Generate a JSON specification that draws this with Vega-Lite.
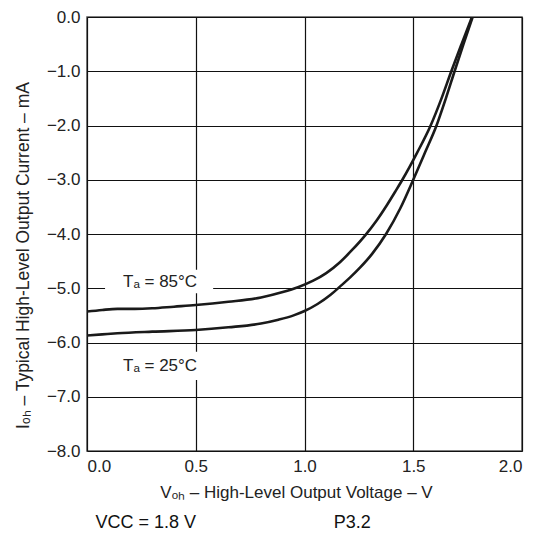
{
  "$schema": "https://vega.github.io/schema/vega-lite/v6.json",
  "width": 435,
  "height": 434,
  "autosize": {"type": "none"},
  "padding": {"left": 87, "top": 17, "right": 19, "bottom": 90},
  "background": "white",
  "config": {
    "view": {"stroke": "#555555", "strokeWidth": 1.5},
    "font": "Liberation Sans",
    "axis": {
      "grid": true,
      "gridColor": "#111111",
      "gridOpacity": 1,
      "gridWidth": 1.2,
      "ticks": false,
      "domain": false,
      "labelFont": "Liberation Sans",
      "labelFontSize": 17,
      "labelColor": "#222222",
      "titleFont": "Liberation Sans",
      "titleFontSize": 17,
      "titleFontWeight": "normal",
      "titleColor": "#222222"
    }
  },
  "datasets": {
    "curves": [
      {"v": 0.0, "i": -5.43, "t": "85"},
      {"v": 0.07, "i": -5.40, "t": "85"},
      {"v": 0.14, "i": -5.38, "t": "85"},
      {"v": 0.22, "i": -5.38, "t": "85"},
      {"v": 0.30, "i": -5.37, "t": "85"},
      {"v": 0.40, "i": -5.34, "t": "85"},
      {"v": 0.50, "i": -5.31, "t": "85"},
      {"v": 0.65, "i": -5.25, "t": "85"},
      {"v": 0.80, "i": -5.17, "t": "85"},
      {"v": 0.90, "i": -5.07, "t": "85"},
      {"v": 0.97, "i": -4.98, "t": "85"},
      {"v": 1.04, "i": -4.86, "t": "85"},
      {"v": 1.10, "i": -4.72, "t": "85"},
      {"v": 1.163, "i": -4.52, "t": "85"},
      {"v": 1.22, "i": -4.29, "t": "85"},
      {"v": 1.28, "i": -4.02, "t": "85"},
      {"v": 1.33, "i": -3.76, "t": "85"},
      {"v": 1.38, "i": -3.46, "t": "85"},
      {"v": 1.42, "i": -3.20, "t": "85"},
      {"v": 1.45, "i": -3.0, "t": "85"},
      {"v": 1.518, "i": -2.5, "t": "85"},
      {"v": 1.58, "i": -2.0, "t": "85"},
      {"v": 1.63, "i": -1.5, "t": "85"},
      {"v": 1.675, "i": -1.0, "t": "85"},
      {"v": 1.722, "i": -0.5, "t": "85"},
      {"v": 1.77, "i": 0.0, "t": "85"},
      {"v": 0.0, "i": -5.87, "t": "25"},
      {"v": 0.07, "i": -5.85, "t": "25"},
      {"v": 0.14, "i": -5.83, "t": "25"},
      {"v": 0.30, "i": -5.80, "t": "25"},
      {"v": 0.50, "i": -5.77, "t": "25"},
      {"v": 0.65, "i": -5.72, "t": "25"},
      {"v": 0.80, "i": -5.65, "t": "25"},
      {"v": 0.88, "i": -5.58, "t": "25"},
      {"v": 0.95, "i": -5.50, "t": "25"},
      {"v": 1.0, "i": -5.42, "t": "25"},
      {"v": 1.06, "i": -5.29, "t": "25"},
      {"v": 1.12, "i": -5.12, "t": "25"},
      {"v": 1.163, "i": -4.97, "t": "25"},
      {"v": 1.21, "i": -4.80, "t": "25"},
      {"v": 1.255, "i": -4.62, "t": "25"},
      {"v": 1.31, "i": -4.37, "t": "25"},
      {"v": 1.375, "i": -4.0, "t": "25"},
      {"v": 1.44, "i": -3.53, "t": "25"},
      {"v": 1.50, "i": -3.0, "t": "25"},
      {"v": 1.555, "i": -2.49, "t": "25"},
      {"v": 1.607, "i": -2.0, "t": "25"},
      {"v": 1.65, "i": -1.5, "t": "25"},
      {"v": 1.69, "i": -1.0, "t": "25"},
      {"v": 1.731, "i": -0.5, "t": "25"},
      {"v": 1.773, "i": 0.0, "t": "25"}
    ],
    "labels": [
      {"v": 0.336, "i": -4.88, "v1": 0.083, "v2": 0.58, "i1": -4.66, "i2": -5.09, "label": "Tₐ = 85°C"},
      {"v": 0.336, "i": -6.43, "v1": 0.083, "v2": 0.58, "i1": -6.17, "i2": -6.69, "label": "Tₐ = 25°C"}
    ],
    "footer": [
      {"v": 0.27, "i": -9.32, "label": "VCC = 1.8 V"},
      {"v": 1.22, "i": -9.32, "label": "P3.2"}
    ]
  },
  "layer": [
    {
      "data": {"name": "labels"},
      "mark": {"type": "rect", "color": "white"},
      "encoding": {
        "x": {"field": "v1", "type": "quantitative",
          "scale": {"domain": [0, 2]},
          "axis": {"values": [0, 0.5, 1, 1.5, 2], "format": ".1f", "labelPadding": 7, "titlePadding": 10, "titleX": 209,
            "title": "Vₒₕ – High-Level Output Voltage – V"}},
        "x2": {"field": "v2"},
        "y": {"field": "i1", "type": "quantitative",
          "scale": {"domain": [-8, 0]},
          "axis": {"values": [-8, -7, -6, -5, -4, -3, -2, -1, 0], "format": ".1f", "labelPadding": 7, "titlePadding": 14, "titleY": 238, "titleFontSize": 17.5,
            "title": "Iₒₕ – Typical High-Level Output Current – mA"}},
        "y2": {"field": "i2"}
      }
    },
    {
      "data": {"name": "curves"},
      "mark": {"type": "line", "color": "#1a1a1a", "strokeWidth": 2.6, "interpolate": "monotone", "clip": true},
      "encoding": {
        "x": {"field": "v", "type": "quantitative"},
        "y": {"field": "i", "type": "quantitative"},
        "detail": {"field": "t", "type": "nominal"}
      }
    },
    {
      "data": {"name": "labels"},
      "mark": {"type": "text", "fontSize": 17, "color": "#222222", "font": "Liberation Sans"},
      "encoding": {
        "x": {"field": "v", "type": "quantitative"},
        "y": {"field": "i", "type": "quantitative"},
        "text": {"field": "label", "type": "nominal"}
      }
    },
    {
      "data": {"name": "footer"},
      "mark": {"type": "text", "fontSize": 18, "color": "#111111", "font": "Liberation Sans"},
      "encoding": {
        "x": {"field": "v", "type": "quantitative"},
        "y": {"field": "i", "type": "quantitative"},
        "text": {"field": "label", "type": "nominal"}
      }
    }
  ]
}
